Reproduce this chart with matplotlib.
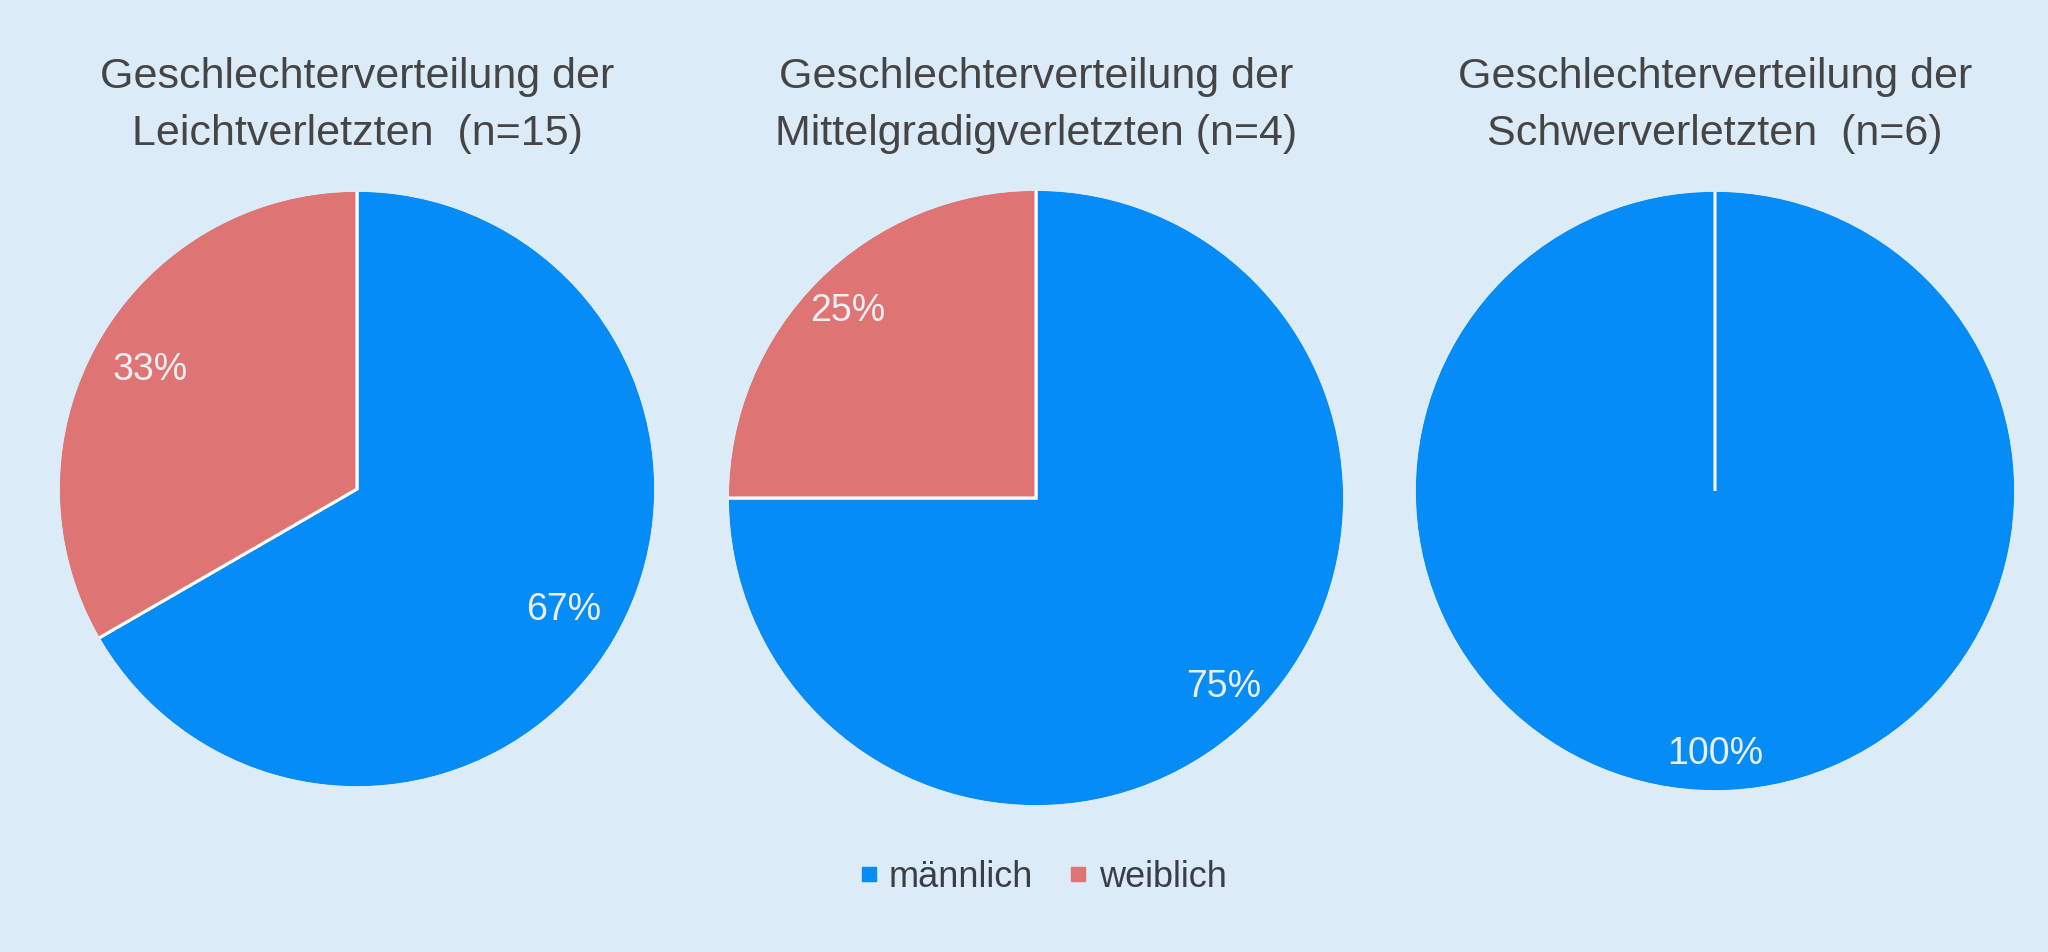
import matplotlib
matplotlib.use("Agg")
import matplotlib.pyplot as plt
from matplotlib.lines import Line2D
from matplotlib.patches import Circle

# ---- data ----
categories = ["männlich", "weiblich"]
leicht = [10, 5]          # n=15 -> 67% / 33%
mittel = [3, 1]           # n=4  -> 75% / 25%
schwer = [6, 0]           # n=6  -> 100% / 0%
titles = [
    "Geschlechterverteilung der\nLeichtverletzten  (n=15)",
    "Geschlechterverteilung der\nMittelgradigverletzten (n=4)",
    "Geschlechterverteilung der\nSchwerverletzten  (n=6)",
]
series = [leicht, mittel, schwer]

# ---- style ----
colors = ["#058cf7", "#de7474"]
bg = "#dcebf8"
W, H = 2048, 953
# pixel geometry (center x, center y, radius) and label distance
geo = [(357, 490, 302, 0.80), (1036, 499, 312, 0.86), (1715, 492, 304, 0.87)]
title_y = [77, 134]

plt.rcParams['font.family'] = ['Liberation Sans', 'DejaVu Sans']
fig = plt.figure(figsize=(W / 100, H / 100), dpi=100, facecolor=bg)

for vals, title, (cx, cy, r, pd) in zip(series, titles, geo):
    ax = fig.add_axes([(cx - r) / W, (H - cy - r) / H, 2 * r / W, 2 * r / H])
    ax.set_facecolor(bg)
    wedges, texts, autotexts = ax.pie(
        vals, colors=colors, startangle=90, counterclock=False,
        autopct=lambda p: f"{p:.0f}%" if p > 0 else "",
        pctdistance=pd, radius=1,
        wedgeprops=dict(edgecolor="white", linewidth=2.2),
        textprops=dict(color="#e9eef3", fontsize=27),
    )
    ax.add_patch(Circle((0, 0), 1.0, fill=False, edgecolor=bg, linewidth=2.6, zorder=5))
    ax.set_xlim(-1.01, 1.01)
    ax.set_ylim(-1.01, 1.01)
    ax.set_aspect("equal")
    ax.axis("off")
    l1, l2 = title.split("\n")
    for line, ty in zip([l1, l2], title_y):
        fig.text(cx / W, 1 - ty / H, line, ha="center", va="center",
                 fontsize=31, color="#454545")

handles = [Line2D([0], [0], marker="s", linestyle="none", markersize=9.5,
                  markerfacecolor=c, markeredgecolor=c) for c in colors]
leg = fig.legend(handles, categories, loc="center", ncol=2,
                 bbox_to_anchor=(1044 / W, 1 - 878 / H), frameon=False,
                 fontsize=26, handlelength=0.4, handletextpad=0.36,
                 columnspacing=1.05, labelcolor="#3a3f45")

fig.savefig("out.png", dpi=100, facecolor=bg)
